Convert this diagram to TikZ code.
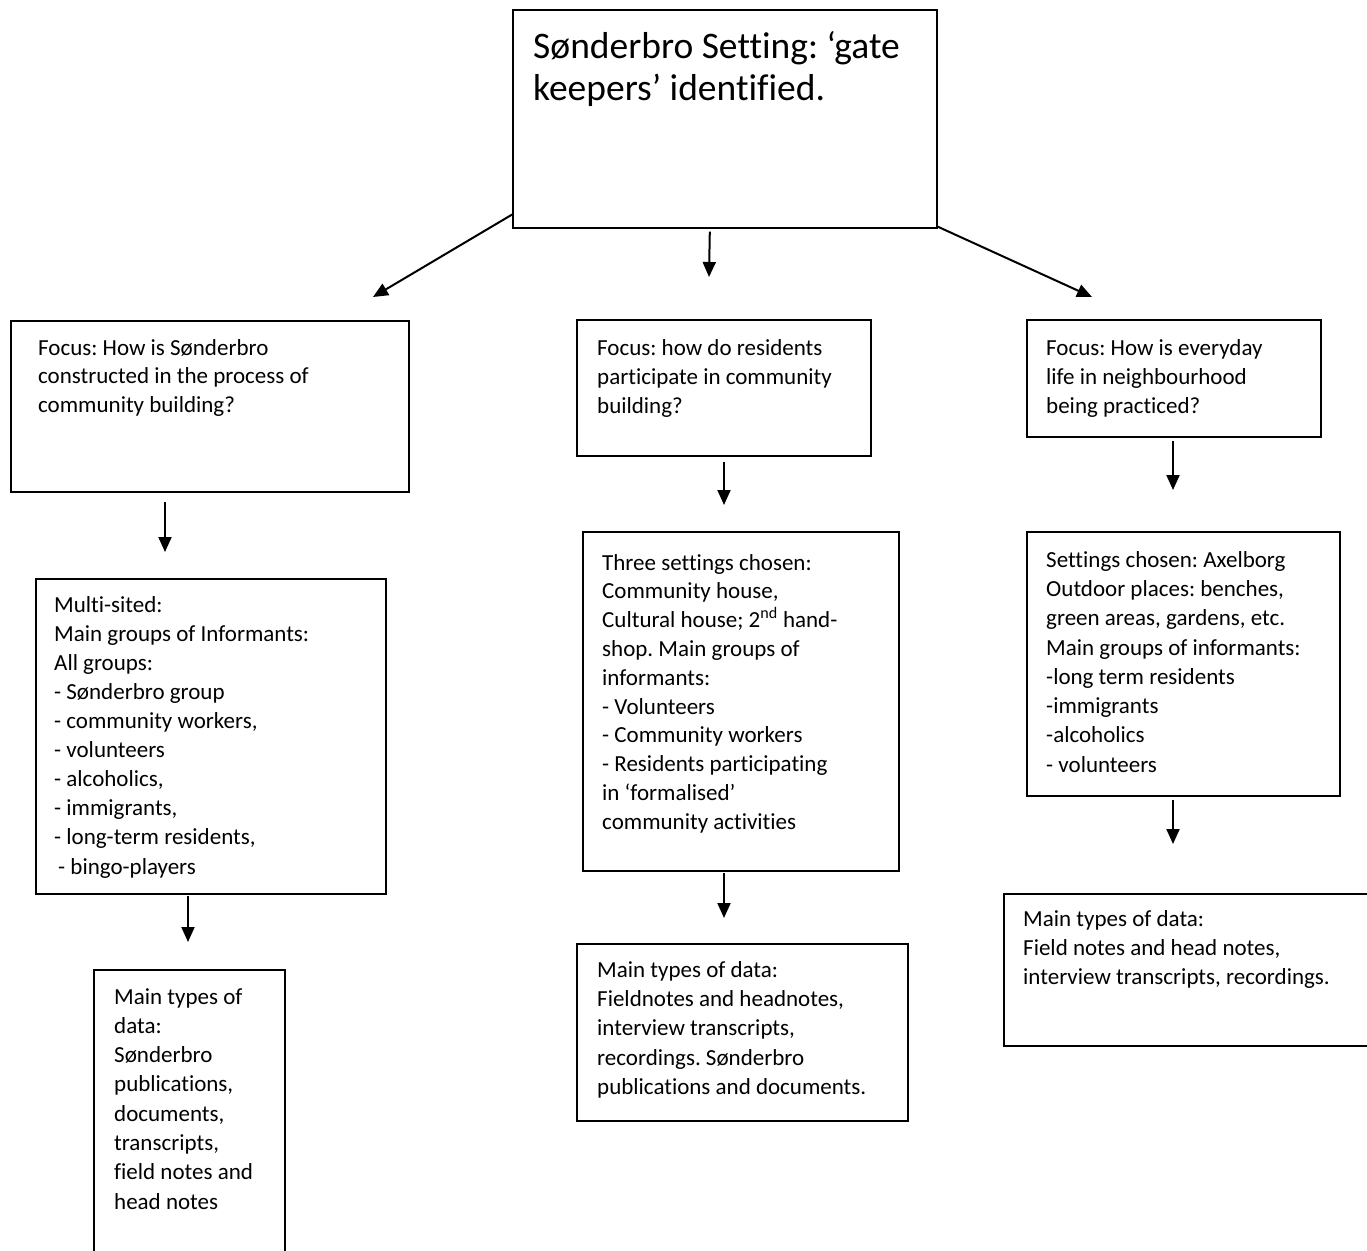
\documentclass[tikz,border=0pt]{standalone}
\usepackage{fontspec}
\setmainfont{Carlito}[Ligatures=CommonOff]
\usetikzlibrary{arrows.meta}
\begin{document}
\frenchspacing
\begin{tikzpicture}[x=1pt,y=-1pt,
  box/.style={draw, line width=1.6pt, rectangle, anchor=north west, inner sep=0pt},
  txt/.style={anchor=north west, inner sep=0pt, align=left, font=\fontsize{23}{29.3}\selectfont},
  arr/.style={line width=2pt, -{Triangle[length=15pt,width=13pt]}}]
\useasboundingbox (0,0) rectangle (1367,1250);
\clip (0,0) rectangle (1367,1250);
\fill[white] (0,0) rectangle (1367,1250);

% boxes
\node[box, minimum width=424pt, minimum height=218pt] (top) at (512,9) {};
\node[box, minimum width=398pt, minimum height=171pt] (A) at (10,320) {};
\node[box, minimum width=294pt, minimum height=136pt] (B) at (576,319) {};
\node[box, minimum width=294pt, minimum height=117pt] (C) at (1026,319) {};
\node[box, minimum width=350pt, minimum height=315pt] (D) at (35,578) {};
\node[box, minimum width=316pt, minimum height=339pt] (E) at (582,531) {};
\node[box, minimum width=313pt, minimum height=264pt] (F) at (1026,531) {};
\node[box, minimum width=191pt, minimum height=400pt] (G) at (93,969) {};
\node[box, minimum width=331pt, minimum height=177pt] (H) at (576,943) {};
\node[box, minimum width=450pt, minimum height=152pt] (I) at (1003,893) {};

% texts
\node[txt, font=\fontsize{37.5}{42}\selectfont] (ttop) at (533,31) {Sønderbro Setting: ‘gate\\keepers’ identified.};
\node[txt, font=\fontsize{23}{28.5}\selectfont] (tA) at (38,339) {Focus: How is Sønderbro\\constructed in the process of\\community building?};
\node[txt] (tB) at (597,339) {Focus: how do residents\\participate in community\\building?};
\node[txt] (tC) at (1046,339) {Focus: How is everyday\\life in neighbourhood\\being practiced?};
\node[txt, font=\fontsize{23}{29.1}\selectfont] (tD) at (54,596) {Multi-sited:\\Main groups of Informants:\\All groups:\\- Sønderbro group\\- community workers,\\- volunteers\\- alcoholics,\\- immigrants,\\- long-term residents,\\\hspace{4pt}- bingo-players};
\node[txt, font=\fontsize{23}{28.8}\selectfont] (tE) at (602,554) {Three settings chosen:\\Community house,\\Cultural house; 2\textsuperscript{nd} hand-\\shop. Main groups of\\informants:\\- Volunteers\\- Community workers\\- Residents participating\\in ‘formalised’\\community activities};
\node[txt] (tF) at (1046,551) {Settings chosen: Axelborg\\Outdoor places: benches,\\green areas, gardens, etc.\\Main groups of informants:\\-long term residents\\-immigrants\\-alcoholics\\- volunteers};
\node[txt] (tG) at (114,988) {Main types of\\data:\\Sønderbro\\publications,\\documents,\\transcripts,\\field notes and\\head notes};
\node[txt] (tH) at (597,961) {Main types of data:\\Fieldnotes and headnotes,\\interview transcripts,\\recordings. Sønderbro\\publications and documents.};
\node[txt] (tI) at (1023,910) {Main types of data:\\Field notes and head notes,\\interview transcripts, recordings.};

% arrow end points
\coordinate (e1) at (373,297);
\coordinate (e2) at (709,277);
\coordinate (e3) at (1092,297);
\coordinate (sA) at (165,502);  \coordinate (eA) at (165,552);
\coordinate (sB) at (724,462);  \coordinate (eB) at (724,505);
\coordinate (sC) at (1173,441); \coordinate (eC) at (1173,490);
\coordinate (sD) at (188,896);  \coordinate (eD) at (188,942);
\coordinate (sE) at (724,873);  \coordinate (eE) at (724,918);
\coordinate (sF) at (1173,800); \coordinate (eF) at (1173,844);

\draw[arr] ([yshift=14pt]top.south west) -- (e1);
\draw[arr] ([xshift=-15pt,yshift=-3pt]top.south) -- (e2);
\draw[arr] ([yshift=2pt]top.south east) -- (e3);
\draw[arr] (sA) -- (eA);
\draw[arr] (sB) -- (eB);
\draw[arr] (sC) -- (eC);
\draw[arr] (sD) -- (eD);
\draw[arr] (sE) -- (eE);
\draw[arr] (sF) -- (eF);
\end{tikzpicture}
\end{document}
